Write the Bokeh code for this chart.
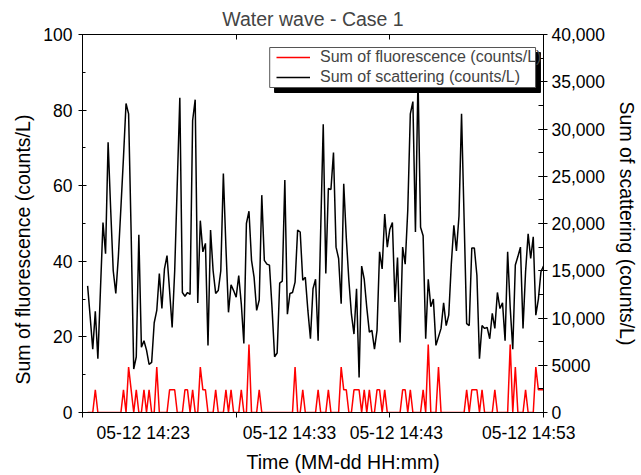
import pandas as pd
from bokeh.plotting import figure
from bokeh.models import (LinearAxis, DatetimeAxis, Range1d, FixedTicker, SingleIntervalTicker,
                          DatetimeTickFormatter, CustomJSTickFormatter, Legend, LegendItem,
                          BoxAnnotation, Title)
from bokeh.embed import file_html
from bokeh.resources import INLINE

# ---------------- data ----------------
start_time = "2021-05-12 14:23:20"
interval_seconds = 10

fluorescence = [
    0, 0, 0, 6, 0, 0, 0, 0, 0, 0,
    0, 0, 0, 0, 6, 0, 12, 6, 0, 6,
    0, 0, 6, 0, 6, 0, 0, 12, 0, 0,
    0, 0, 6, 6, 6, 0, 0, 0, 6, 6,
    0, 6, 0, 0, 12, 6, 6, 0, 0, 0,
    6, 0, 0, 0, 6, 0, 6, 0, 0, 0,
    6, 0, 0, 18, 0, 0, 0, 6, 0, 0,
    0, 0, 0, 0, 0, 0, 0, 0, 0, 0,
    0, 12, 0, 0, 6, 0, 0, 0, 0, 0,
    6, 0, 0, 0, 6, 0, 0, 0, 0, 12,
    6, 6, 0, 0, 6, 6, 6, 0, 6, 0,
    6, 0, 0, 6, 6, 0, 6, 0, 0, 0,
    0, 0, 0, 6, 6, 0, 6, 0, 0, 0,
    0, 6, 0, 18, 0, 0, 0, 12, 0, 0,
    0, 0, 0, 0, 0, 0, 0, 0, 6, 0,
    6, 6, 6, 0, 6, 0, 0, 0, 0, 6,
    0, 0, 0, 0, 0, 18, 0, 12, 0, 0,
    0, 6, 0, 0, 0, 12, 6, 6, 6,
]

scattering = [
    13400, 10100, 6700, 10700, 5700, 12900, 20100, 16800, 28600, 21500,
    15000, 12600, 16500, 21700, 27000, 32700, 31600, 18900, 4600, 5900,
    18800, 6900, 7600, 6600, 5100, 5300, 9500, 10800, 14700, 11000,
    15200, 16600, 12900, 9000, 15000, 24200, 33300, 12700, 12300, 12700,
    12500, 30900, 33100, 11600, 20300, 17000, 17900, 7100, 19300, 15000,
    12600, 12900, 15000, 25300, 17500, 10600, 13500, 12900, 12200, 14500,
    11500, 7300, 20000, 21300, 16100, 14300, 10800, 11900, 23000, 16100,
    15700, 15600, 11100, 5900, 6300, 13700, 13900, 24600, 10400, 12600,
    12700, 13800, 19300, 19100, 14000, 14300, 10800, 7800, 13100, 14100,
    7600, 19300, 30500, 14700, 23700, 23600, 27500, 17500, 16300, 11500,
    24200, 18500, 14000, 10400, 8300, 13100, 3700, 15500, 14100, 11100,
    8500, 8700, 6700, 8700, 17000, 15200, 21000, 17500, 19400, 20100,
    11700, 16400, 7400, 17500, 15700, 21400, 31600, 32900, 19100, 35500,
    19600, 18700, 7800, 14100, 11200, 12000, 7100, 8000, 8900, 11600,
    9200, 10300, 15700, 19800, 17100, 20800, 31600, 20500, 9400, 9200,
    17400, 17400, 14500, 5700, 9200, 8900, 9000, 7800, 10500, 8900,
    12700, 11000, 11600, 7600, 17000, 11100, 6700, 15600, 16500, 17500,
    8900, 14900, 18900, 16300, 18600, 10300, 12000, 14900, 15500,
]

x_tick_times = ["2021-05-12 14:23", "2021-05-12 14:33", "2021-05-12 14:43", "2021-05-12 14:53"]
x_tick_format = "%m-%d %H:%M"
left_range = (0, 100)
right_range = (0, 40000)
right_tick_values = [0, 5000, 10000, 15000, 20000, 25000, 30000, 35000, 40000]
right_tick_labels = ["0", "5000", "10,000", "15,000", "20,000", "25,000", "30,000", "35,000", "40,000"]

title_text = "Water wave - Case 1"
x_label = "Time (MM-dd HH:mm)"
left_label = "Sum of fluorescence (counts/L)"
right_label = "Sum of scattering (counts/L)"
legend_labels = ["Sum of fluorescence (counts/L)", "Sum of scattering (counts/L)"]

# ---------------- layout (pixels) ----------------
FONT = "Liberation Sans"
W, H = 641, 475
FL, FR, FT, FB = 82, 552, 34, 412          # frame edges
XTICK_LABEL_CX = [144, 293, 402, 537]      # centres of the time tick labels (as drawn in the original)
XLABEL_LEFT = 246                          # left edge of the x axis title
LLABEL_BOTTOM = 384                        # lower end of the left axis title

# ---------------- build ----------------
times = pd.date_range(start=start_time, periods=len(scattering), freq=f"{interval_seconds}s")
tick_ts = [pd.Timestamp(t) for t in x_tick_times]
tick_ms = [t.value / 1e6 for t in tick_ts]
x_tick_labels = [t.strftime(x_tick_format) for t in tick_ts]
span_ms = tick_ms[-1] - tick_ms[0]
label_ms = [tick_ms[0] + span_ms * (cx - FL) / (FR - FL) for cx in XTICK_LABEL_CX]

p = figure(width=W, height=H, output_backend="svg", toolbar_location=None,
           x_axis_type=None, y_axis_type=None,
           x_range=Range1d(tick_ts[0], tick_ts[-1]),
           y_range=Range1d(*left_range),
           min_border_left=FL, min_border_right=W - FR,
           min_border_top=FT, min_border_bottom=H - FB)
p.extra_y_ranges = {"scat": Range1d(*right_range)}

p.title.text = title_text
p.title.text_font = FONT
p.title.text_font_size = "19.5px"
p.title.text_font_style = "normal"
p.title.align = "center"

p.grid.visible = False
p.outline_line_color = "black"
p.outline_line_alpha = 1
p.outline_line_width = 1
p.background_fill_color = "white"
p.border_fill_color = "white"

def style_axis(ax):
    ax.axis_line_color = "black"
    ax.major_tick_line_color = "black"
    ax.minor_tick_line_color = "black"
    ax.major_label_text_font = FONT
    ax.major_label_text_font_size = "17.5px"
    ax.major_label_text_color = "black"
    ax.axis_label_text_font = FONT
    ax.axis_label_text_font_size = "19.5px"
    ax.axis_label_text_font_style = "normal"
    ax.axis_label_text_color = "black"

xfmt = DatetimeTickFormatter(seconds=x_tick_format, minsec=x_tick_format, minutes=x_tick_format,
                             hourmin=x_tick_format, hours=x_tick_format, days=x_tick_format)
# tick marks (top and bottom), no labels
for side, tin, tout in (("below", 0, 5), ("above", 5, 0)):
    ax = DatetimeAxis(ticker=FixedTicker(ticks=tick_ms), formatter=xfmt)
    style_axis(ax)
    ax.major_tick_in = tin
    ax.major_tick_out = tout
    ax.major_label_text_font_size = "0px"
    ax.major_label_text_color = None
    ax.major_label_standoff = 0
    p.add_layout(ax, side)

# time labels, placed where the original draws them
lab_ax = DatetimeAxis(ticker=FixedTicker(ticks=label_ms),
                      formatter=CustomJSTickFormatter(args=dict(labels=x_tick_labels),
                                                      code="return labels[index]"))
style_axis(lab_ax)
lab_ax.axis_line_color = None
lab_ax.major_tick_line_color = None
lab_ax.major_tick_in = 0
lab_ax.major_tick_out = 0
lab_ax.major_label_standoff = 5
p.add_layout(lab_ax, "below")

p.add_layout(Title(text=x_label, align="left", offset=XLABEL_LEFT - FL, text_font=FONT,
                   text_font_size="19.5px", text_font_style="normal", text_color="black",
                   standoff=6), "below")

lax = LinearAxis(ticker=SingleIntervalTicker(interval=20, num_minor_ticks=2))
style_axis(lax)
lax.major_tick_in = 4
lax.major_tick_out = 4
lax.minor_tick_in = 3
lax.minor_tick_out = 0
lax.major_label_standoff = 6
p.add_layout(lax, "left")
p.add_layout(Title(text=left_label, align="left", offset=FB - LLABEL_BOTTOM, text_font=FONT,
                   text_font_size="19.5px", text_font_style="normal", text_color="black",
                   standoff=14), "left")

rax = LinearAxis(y_range_name="scat", ticker=SingleIntervalTicker(interval=5000, num_minor_ticks=2),
                 axis_label=right_label)
rax.major_label_overrides = {v: s for v, s in zip(right_tick_values, right_tick_labels)}
style_axis(rax)
rax.major_tick_in = 5
rax.major_tick_out = 4
rax.minor_tick_in = 5
rax.minor_tick_out = 0
rax.major_label_standoff = 4
rax.axis_label_standoff = 8
p.add_layout(rax, "right")

r_fl = p.line(times, fluorescence, line_color="#ff0000", line_width=1.5)
r_sc = p.line(times, scattering, line_color="black", line_width=1.5, y_range_name="scat")

# legend box + shadow
t0, t1 = tick_ts[0], tick_ts[-1]
def px_to_x(px):
    return t0 + (t1 - t0) * ((px - FL) / (FR - FL))
def py_to_y(py):
    return left_range[0] + (left_range[1] - left_range[0]) * ((FB - py) / (FB - FT))

shadow = BoxAnnotation(left=px_to_x(278), right=px_to_x(549), top=py_to_y(52), bottom=py_to_y(92),
                       fill_color="black", fill_alpha=1, line_color="black", line_alpha=1)
box = BoxAnnotation(left=px_to_x(273), right=px_to_x(544), top=py_to_y(47), bottom=py_to_y(87),
                    fill_color="white", fill_alpha=1, line_color="#555555", line_alpha=1, line_width=1)
p.add_layout(shadow)
p.add_layout(box)

legend = Legend(items=[LegendItem(label=legend_labels[0], renderers=[r_fl]),
                       LegendItem(label=legend_labels[1], renderers=[r_sc])],
                location=(276 - FL, FB - 87), padding=0, margin=0, spacing=0,
                glyph_width=34, glyph_height=20, label_height=20, label_standoff=10,
                background_fill_alpha=0, border_line_alpha=0,
                label_text_font=FONT, label_text_font_size="16px")
p.add_layout(legend)

open("out.html", "w").write(file_html(p, INLINE))
